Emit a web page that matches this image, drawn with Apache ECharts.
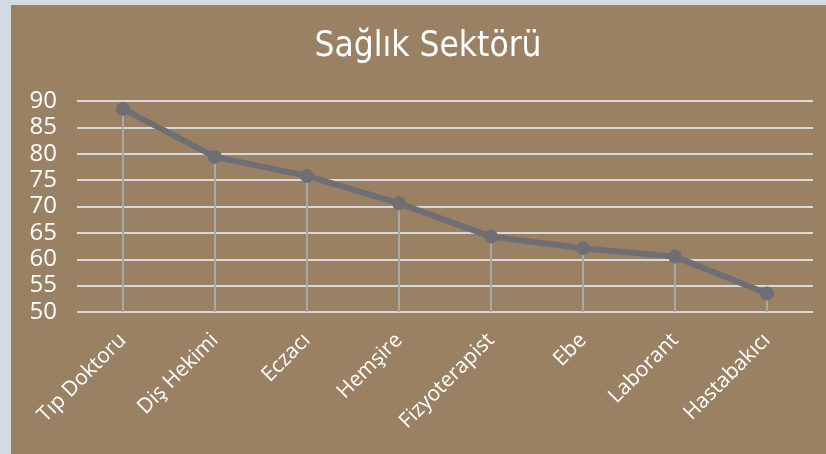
<!DOCTYPE html>
<html>
<head>
<meta charset="utf-8">
<script src="https://cdn.jsdelivr.net/npm/echarts@6/dist/echarts.min.js"></script>
<style>
  html, body { margin: 0; padding: 0; background: #d3dce5; width: 826px; height: 454px; overflow: hidden; }
  #chart { position: absolute; left: 11px; top: 5px; width: 815px; height: 449px; background: #9b8163; }
</style>
</head>
<body>
<div id="chart"></div>
<script>
const categories = ['Tıp Doktoru', 'Diş Hekimi', 'Eczacı', 'Hemşire', 'Fizyoterapist', 'Ebe', 'Laborant', 'Hastabakıcı'];
const values = [88.5, 79.4, 75.8, 70.6, 64.3, 62.1, 60.5, 53.5];

const chart = echarts.init(document.getElementById('chart'));

const option = {
  backgroundColor: 'transparent',
  animation: false,
  title: {
    text: 'Sağlık Sektörü',
    left: 412,
    textAlign: 'center',
    top: 19,
    textStyle: {
      color: '#ffffff',
      fontFamily: '"DejaVu Sans Condensed", "Noto Sans", sans-serif',
      fontWeight: 'normal',
      fontSize: 35
    }
  },
  grid: {
    left: 66,
    right: 13,
    top: 96,
    bottom: 142
  },
  xAxis: {
    type: 'category',
    data: categories,
    boundaryGap: true,
    axisLine: { show: false },
    axisTick: { show: false },
    axisLabel: {
      rotate: 45,
      interval: 0,
      margin: 25,
      color: '#ffffff',
      fontSize: 21,
      fontFamily: '"Open Sans", sans-serif'
    }
  },
  yAxis: {
    type: 'value',
    min: 50,
    max: 90,
    interval: 5,
    axisLine: { show: false },
    axisTick: { show: false },
    axisLabel: {
      margin: 20,
      color: '#ffffff',
      fontSize: 24,
      fontFamily: '"Open Sans", sans-serif'
    },
    splitLine: { lineStyle: { color: '#d9d9d9', width: 2 } }
  },
  series: [
    {
      type: 'bar',
      data: values,
      barWidth: 2,
      itemStyle: { color: '#a8a8a8' },
      z: 1
    },
    {
      type: 'line',
      data: values,
      symbol: 'circle',
      symbolSize: 14,
      lineStyle: { color: '#6e6e74', width: 6 },
      itemStyle: { color: '#6e6e74' },
      z: 3
    }
  ]
};

chart.setOption(option);
</script>
</body>
</html>
